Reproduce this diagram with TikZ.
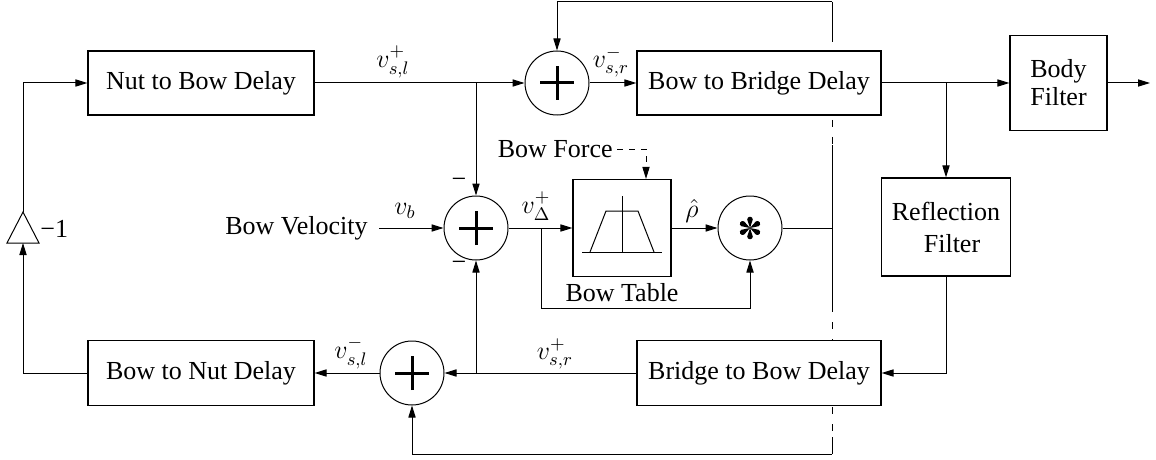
\RequirePackage{fix-cm}
\documentclass[tikz,border=0pt]{standalone}
\usepackage{fontspec}
\setmainfont{Liberation Serif}
\usetikzlibrary{arrows.meta,calc}
\begin{document}
\begin{tikzpicture}[x=0.5pt,y=-0.5pt,
  font=\fontsize{13}{14}\selectfont,
  plain/.style={line width=0.5pt},
  wire/.style={line width=0.5pt,-{Triangle[length=6pt,width=3.6pt]}},
  blk/.style={draw,line width=0.6pt,fill=white,align=center,inner sep=0pt},
  junc/.style={draw,circle,line width=0.5pt,fill=white,minimum size=32pt,inner sep=0pt},
  plusbar/.style={line width=1.5pt},
  lbl/.style={inner sep=0pt}
]
\useasboundingbox (0,0) rectangle (1156,460);

% string/bow interface line (partly dashed)
\coordinate (ctop) at (832,2);
\coordinate (cbot) at (832,454);
\draw[plain] (ctop) -- ($(ctop)+(0,33)$);
\draw[plain,dash pattern=on 3.5pt off 5pt] ($(ctop)+(0,33)$) -- ($(ctop)+(0,143)$);
\draw[plain] ($(ctop)+(0,143)$) -- ($(ctop)+(0,303)$);
\draw[plain,dash pattern=on 3.5pt off 5pt] ($(ctop)+(0,303)$) -- ($(cbot)+(0,-17)$);
\draw[plain] ($(cbot)+(0,-17)$) -- (cbot);

% delay lines and filters
\node[blk,minimum width=113pt,minimum height=32pt] (nut) at (201,83) {Nut to Bow Delay};
\node[blk,minimum width=113pt,minimum height=32.5pt] (b2n) at (201,373) {Bow to Nut Delay};
\node[blk,minimum width=122pt,minimum height=32pt] (b2b) at (759,83) {Bow to Bridge Delay};
\node[blk,minimum width=122pt,minimum height=32.5pt] (br2b) at (759,373) {Bridge to Bow Delay};
\node[blk,minimum width=48.5pt,minimum height=47.5pt] (body) at (1058.5,83) {Body\\Filter};
\node[blk,minimum width=64.5pt,minimum height=49pt] (refl) at (946,227) {Reflection\\[2pt]\hspace*{6pt}Filter};
\node[blk,minimum width=49pt,minimum height=48.5pt] (table) at (622,228) {};

% bow table curve
\draw[line width=0.5pt] (582,252) -- (662,252);
\draw[line width=0.5pt] (622,196) -- (622,252);
\draw[line width=0.5pt] (590,252) -- (606,211) -- (638,211) -- (654,252);

% summing junctions and the multiplier
\node[junc] (sumT) at (557,83) {};
\node[junc] (sumM) at (476,228) {};
\node[junc] (sumB) at (412,373) {};
\node[junc] (mult) at (750,228) {};
\foreach \n in {sumT,sumM,sumB}{
  \draw[plusbar] ([xshift=-8.5pt]\n.center) -- ([xshift=8.5pt]\n.center);
  \draw[plusbar] ([yshift=-8.5pt]\n.center) -- ([yshift=8.5pt]\n.center);
}
\begin{scope}[shift={(mult.center)}]
  \foreach \a in {30,90,...,330}
    \fill[rotate=\a] (0,0) -- (8.5,-2.8) arc[start angle=-90,end angle=90,radius=2.8] -- cycle;
\end{scope}

% sign inversion at the nut
\coordinate (gtop) at (23,212);
\coordinate (gbot) at (23,243);
\draw[line width=0.5pt] (gtop) -- (7,243) -- (39,243) -- cycle;
\node[lbl,anchor=west] (gain) at (40,229) {−1};

% signals
\draw[wire] (gtop) |- (nut);
\draw[wire] (b2n) -| (gbot);
\draw[wire] (nut) -- (sumT);
\draw[wire] (sumM |- nut) -- (sumM);
\draw[wire] (ctop) -| (sumT);
\draw[wire] (sumT) -- (b2b);
\draw[wire] (b2b) -- (body);
\coordinate (out) at (1150,83);
\draw[wire] (body) -- (out);
\draw[wire] (b2b -| refl) -- (refl);
\draw[wire] (refl) |- (br2b);
\draw[wire] (br2b) -- (sumB);
\draw[wire] (sumM |- br2b) -- (sumM);
\draw[wire] (sumB) -- (b2n);
\draw[wire] (cbot) -| (sumB);

\node[anchor=east,inner xsep=5.5pt,inner ysep=0pt] (bv) at (379,228) {Bow Velocity};
\draw[wire] (bv) -- (sumM);
\draw[wire] (sumM) -- (table);
\coordinate (jv) at (541,228);
\coordinate (lp) at (541,308);
\draw[wire] (jv) -- (lp) -| (mult);
\draw[wire] (table) -- (mult);
\draw[plain] (mult) -- (mult -| ctop);

\node[anchor=east,inner xsep=2pt,inner ysep=0pt] (bf) at (617,149) {Bow Force};
\draw[plain,dash pattern=on 3pt off 3pt,-{Triangle[length=6pt,width=3.6pt]}] (bf) -| ([xshift=12pt]table.north);

% labels
\node[lbl] (l1) at (393,62) {$v_{s,l}^+$};
\node[lbl] (l2) at (611,62) {$v_{s,r}^-$};
\node[lbl] (l3) at (405,211) {$v_b$};
\node[lbl] (l4) at (536,206) {$v_\Delta^+$};
\node[lbl] (l5) at (692,211) {$\hat\rho$};
\node[lbl] (l6) at (351,353) {$v_{s,l}^-$};
\node[lbl] (l7) at (555,354) {$v_{s,r}^+$};
\node[lbl] (l8) at (622,293) {Bow Table};
\node[lbl] (m1) at (459,183) {−};
\node[lbl] (m2) at (459,266) {−};
\end{tikzpicture}
\end{document}
